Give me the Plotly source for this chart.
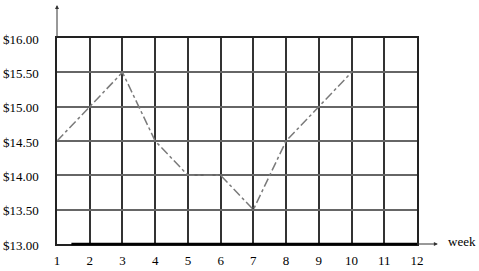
import plotly.graph_objects as go

weeks = [1, 2, 3, 4, 5, 6, 7, 8, 9, 10]
prices = [14.5, 15.0, 15.5, 14.5, 14.0, 14.0, 13.5, 14.5, 15.0, 15.5]
x_ticks = list(range(1, 13))
y_ticks = [13.0, 13.5, 14.0, 14.5, 15.0, 15.5, 16.0]
y_labels = ["$%.2f" % v for v in y_ticks]

FONT = "Liberation Serif"

fig = go.Figure()
fig.add_trace(go.Scatter(
    x=weeks, y=prices, mode="lines",
    line=dict(color="#7a7a7a", width=1.5, dash="dashdot"),
    hoverinfo="skip", showlegend=False,
))

fig.update_layout(
    width=479, height=271,
    margin=dict(l=57, r=62, t=38, b=27, autoexpand=False),
    paper_bgcolor="white", plot_bgcolor="white",
    font=dict(family=FONT, size=13, color="black"),
    xaxis=dict(
        range=[1, 12], tickvals=x_ticks, ticktext=[str(v) for v in x_ticks],
        showgrid=True, gridcolor="#333333", gridwidth=1.5,
        showline=True, linecolor="#222222", linewidth=1.5, mirror=True,
        ticks="", ticklabelstandoff=4, zeroline=False, automargin=False,
        tickfont=dict(family=FONT, size=13, color="black"),
    ),
    yaxis=dict(
        range=[13, 16], tickvals=y_ticks, ticktext=y_labels,
        showgrid=True, gridcolor="#666666", gridwidth=1.5,
        showline=True, linecolor="#222222", linewidth=1.5, mirror=True,
        ticks="", ticklabelstandoff=14, ticklabelshift=1, zeroline=False,
        automargin=False,
        tickfont=dict(family=FONT, size=13, color="black"),
    ),
)

# thick bottom axis segment
fig.add_shape(type="line", xref="paper", yref="paper", x0=0.04, x1=1, y0=0, y1=0,
              line=dict(color="black", width=2.5))

# axis arrows
fig.add_annotation(xref="paper", yref="paper", x=1.058, y=0, ax=-21, ay=0,
                   text="", showarrow=True, arrowhead=2, arrowsize=0.8,
                   arrowwidth=1, arrowcolor="#333333")
fig.add_annotation(xref="paper", yref="paper", x=0, y=1.16, ax=0, ay=33,
                   text="", showarrow=True, arrowhead=2, arrowsize=0.8,
                   arrowwidth=1, arrowcolor="#333333")
fig.add_annotation(xref="paper", yref="paper", x=1.125, y=0.01, text="week",
                   showarrow=False, xanchor="center", yanchor="middle",
                   font=dict(family=FONT, size=13, color="black"))

fig.write_html("out.html")
